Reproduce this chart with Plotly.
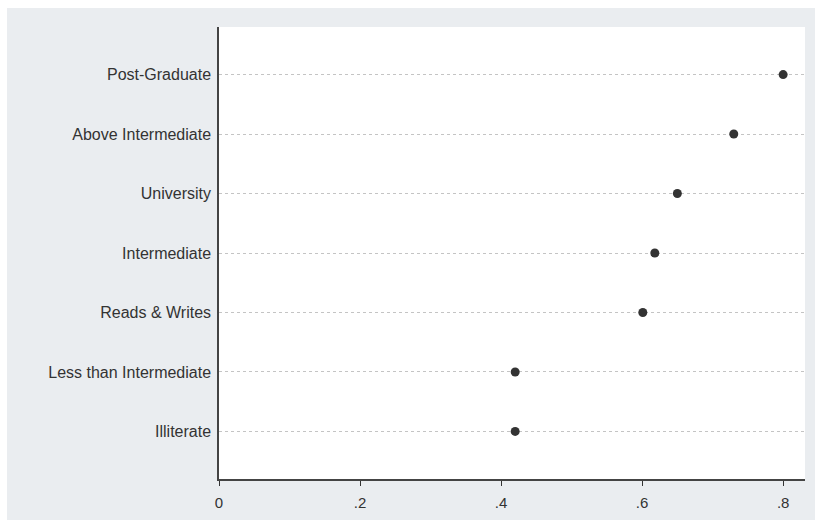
import plotly.graph_objects as go

# Education levels (bottom to top) and their mean values
levels = [
    "Illiterate",
    "Less than Intermediate",
    "Reads & Writes",
    "Intermediate",
    "University",
    "Above Intermediate",
    "Post-Graduate",
]
values = [0.42, 0.42, 0.601, 0.618, 0.65, 0.73, 0.80]

x_tickvals = [0, 0.2, 0.4, 0.6, 0.8]
x_ticktext = ["0", ".2", ".4", ".6", ".8"]

W, H = 815, 520
ML, MR, MT, MB = 219, 10, 27, 41
BG = "#eaedf0"
INK = "#333333"
FONT = "Liberation Sans, Arial, sans-serif"

fig = go.Figure(
    go.Scatter(
        x=values,
        y=levels,
        mode="markers",
        marker=dict(color=INK, size=9, line=dict(width=0)),
        hoverinfo="x+y",
        showlegend=False,
    )
)

fig.update_layout(
    width=W,
    height=H,
    margin=dict(l=ML, r=MR, t=MT, b=MB, pad=0),
    paper_bgcolor=BG,
    plot_bgcolor="white",
    font=dict(family=FONT, size=16, color=INK),
    xaxis=dict(
        range=[0, 0.831],
        tickvals=x_tickvals,
        ticktext=x_ticktext,
        ticks="outside",
        ticklen=5,
        tickcolor=INK,
        tickwidth=1,
        ticklabelstandoff=4,
        showline=True,
        linecolor="#444444",
        linewidth=1.5,
        showgrid=False,
        zeroline=False,
        tickfont=dict(size=15),
    ),
    yaxis=dict(
        type="category",
        categoryorder="array",
        categoryarray=levels,
        range=[-0.8, 6.8],
        ticks="",
        ticklabelstandoff=3,
        showline=True,
        linecolor="#444444",
        linewidth=1.5,
        showgrid=True,
        gridcolor="#c4c4c4",
        gridwidth=1,
        griddash="dot",
        zeroline=False,
    ),
    shapes=[
        # thin white frame along the top and left of the page
        dict(type="rect", xref="paper", yref="paper",
             x0=(0 - ML) / (W - ML - MR), x1=(W - ML) / (W - ML - MR),
             y0=(H - MB - 8) / (H - MT - MB), y1=(H - MB) / (H - MT - MB),
             fillcolor="white", line=dict(width=0), layer="above"),
        dict(type="rect", xref="paper", yref="paper",
             x0=(0 - ML) / (W - ML - MR), x1=(7 - ML) / (W - ML - MR),
             y0=(0 - MB) / (H - MT - MB) - 0.01, y1=(H - MB) / (H - MT - MB),
             fillcolor="white", line=dict(width=0), layer="above"),
    ],
)

fig.write_html("out.html")
